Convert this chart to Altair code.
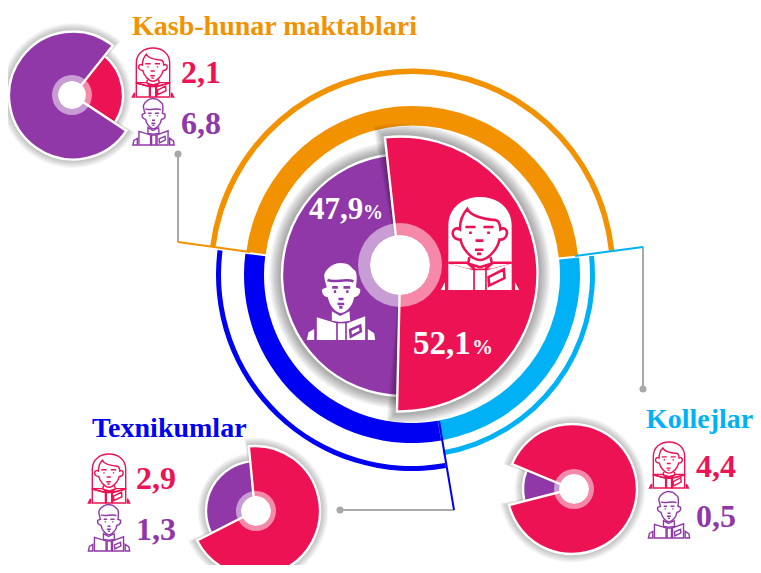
import re
import math
import altair as alt
import pandas as pd

# ---- data ----
MAIN_NAMES = ["Ayollar", "Erkaklar"]
MAIN_SHARES = [52.1, 47.9]
RING_NAMES = ["Kasb-hunar maktablari", "Kollejlar", "Texnikumlar"]
RING_SHARES = [46.3, 23.9, 29.8]
KASB_VALUES = [2.1, 6.8]
TEXN_VALUES = [2.9, 1.3]
KOLL_VALUES = [4.4, 0.5]

# ---- palette / layout ----
PINK = "#EC1254"
PURPLE = "#9038A8"
ORANGE = "#F39200"
BLUE = "#0000F2"
CYAN = "#00B2F5"
GREY = "#A8A8A8"
FONT = "Liberation Serif"
M = 8
THETA = alt.Scale(domain=[0, 360], range=[0, 2 * math.pi])
layers = []


def arc(cx, cy, r0, r1, a0, a1, color, opacity=1.0, stroke=None, sw=0):
    df = pd.DataFrame({"a0": [a0], "a1": [a1]})
    kw = {}
    if stroke:
        kw = {"stroke": stroke, "strokeWidth": sw}
    layers.append(
        alt.Chart(df)
        .mark_arc(radius=r1, radius2=r0, fill=color, fillOpacity=opacity, **kw)
        .encode(
            x=alt.value(cx - M),
            y=alt.value(cy - M),
            theta=alt.Theta("a0:Q", scale=THETA),
            theta2="a1:Q",
        )
    )


def shadow(cx, cy, r0, r1, a0, a1, steps, grow, pad=0.0, alpha=0.05):
    for i in range(steps, 0, -1):
        p = pad * i / steps
        arc(cx, cy, r0, r1 + grow * i, a0 - p, a1 + p, "#000000", alpha)


def line(x0, y0, x1, y1, color, w=2):
    layers.append(
        alt.Chart(pd.DataFrame({"k": [0]}))
        .mark_rule(color=color, strokeWidth=w)
        .encode(
            x=alt.value(x0 - M), y=alt.value(y0 - M),
            x2=alt.value(x1 - M), y2=alt.value(y1 - M),
        )
    )


def dot(x, y):
    layers.append(
        alt.Chart(pd.DataFrame({"k": [0]}))
        .mark_circle(size=50, color=GREY, opacity=1)
        .encode(x=alt.value(x - M), y=alt.value(y - M))
    )


def text(s, x, y, size, color):
    layers.append(
        alt.Chart(pd.DataFrame({"k": [0]}))
        .mark_text(text=s, font=FONT, fontWeight="bold", fontSize=size, color=color,
                   align="left", baseline="alphabetic")
        .encode(x=alt.value(x - M), y=alt.value(y - M))
    )


def pie(cx0, cy0, r0, cx1, cy1, r1, start, values, col0, col1, first_top=False):
    """slice 0 at (cx0,cy0) radius r0, slice 1 at (cx1,cy1) radius r1"""
    total = sum(values)
    a = start
    b = start + values[0] / total * 360
    c = start + 360
    if first_top:
        shadow(cx1, cy1, 0, r1, b, c, 7, 1.2, 0, 0.04)
        arc(cx1, cy1, 0, r1, b, c, col1, 1, "white", 2.4)
        shadow(cx0, cy0, 0, r0, a, b, 7, 1.2, 3, 0.04)
        arc(cx0, cy0, 0, r0, a, b, col0, 1, "white", 2.4)
    else:
        shadow(cx0, cy0, 0, r0, a, b, 7, 1.2, 0, 0.04)
        arc(cx0, cy0, 0, r0, a, b, col0, 1, "white", 2.4)
        shadow(cx1, cy1, 0, r1, b, c, 7, 1.2, 3, 0.04)
        arc(cx1, cy1, 0, r1, b, c, col1, 1, "white", 2.4)


def hub(cx, cy, hole, ring):
    arc(cx, cy, hole, ring, 0, 360, "#FFFFFF", 0.5)
    arc(cx, cy, 0, hole, 0, 360, "#FFFFFF")


# ---- icon outlines (design space, converted to Vega's [-1,1] symbol space) ----
F_BOX = (10, 240, 20, 293)
M_BOX = (20, 225, 24, 258)

F_FILL = [
    "M32 215 L32 105 C32 50 75 20 125 20 C175 20 218 50 218 105 L218 215 L160 230 L90 230 Z",
    "M32 215 L105 235 L105 293 L32 293 Z",
    "M110 235 L140 235 L140 293 L110 293 Z",
    "M145 235 L218 215 L218 293 L145 293 Z",
    "M10 293 L22 270 L22 293 Z",
    "M228 270 L240 293 L228 293 Z",
]
F_LINES = (
    "M88 55 C96 73 130 85 172 88 C182 90 184 100 185 115 C195 108 206 115 204 128 "
    "C202 140 192 146 182 145 C178 170 150 205 125 205 C100 205 72 170 68 145 "
    "C58 146 46 140 45 128 C44 115 55 108 66 115 C66 95 72 72 88 55 Z "
    "M94 197 L90 215 L110 232 M156 197 L160 215 L140 232 M92 216 L125 226 L158 216 "
    "M32 213 L88 213 M162 213 L218 213 "
    "M82 108 L112 108 M135 108 L165 108 M93 125 L101 125 M146 125 L154 125 "
    "M112 148 L135 148 M110 175 L135 175 M116 187 L129 187 "
    "M150 255 L195 232 L197 258 L152 280 Z"
)
M_FILL = [
    "M72 62 C78 40 108 22 128 28 C150 28 150 40 165 50 C172 62 170 80 167 100 L180 105 "
    "C182 118 175 128 162 130 C158 155 140 175 122 178 C105 175 88 155 83 130 "
    "C70 128 64 118 66 106 L80 100 C76 85 72 75 72 62 Z",
    "M95 172 L120 186 L148 172 L150 200 L122 204 L95 200 Z",
    "M50 190 L108 208 L108 258 L50 258 Z",
    "M113 208 L135 208 L135 258 L113 258 Z",
    "M140 208 L195 187 L195 258 L140 258 Z",
    "M20 258 L25 235 L42 225 L42 258 Z",
    "M203 225 L222 238 L225 258 L203 258 Z",
]
M_LINES = (
    "M82 78 C105 88 135 72 160 82 "
    "M96 100 L113 100 M130 100 L150 100 M101 113 L108 113 M138 113 L145 113 "
    "M115 135 L130 135 M112 150 L132 150 M117 160 L127 160 "
    "M150 228 L180 215 L182 232 L152 248 Z"
)


def normalize(path, box):
    x0, x1, y0, y1 = box
    cx, cy, half = (x0 + x1) / 2, (y0 + y1) / 2, (y1 - y0) / 2
    idx = [0]

    def sub(m):
        v = float(m.group())
        out = (v - cx) / half if idx[0] % 2 == 0 else (v - cy) / half
        idx[0] += 1
        return f"{out:.4f}"

    return re.sub(r"\d+(?:\.\d+)?", sub, path)


def icon(fill_paths, line_path, box, x0, y0, x1, y1, main, detail=None, sw=1.4):
    """solid=detail given: white silhouettes with coloured lines; else outline"""
    cx, cy, h = (x0 + x1) / 2, (y0 + y1) / 2, y1 - y0
    base = alt.Chart(pd.DataFrame({"k": [0]}))
    pos = dict(x=alt.value(cx - M), y=alt.value(cy - M))
    for p in fill_paths:
        s = normalize(p, box)
        if detail:
            layers.append(base.mark_point(shape=s, size=h * h, filled=True, fill=main,
                                          opacity=1, strokeWidth=0).encode(**pos))
        else:
            layers.append(base.mark_point(shape=s, size=h * h, filled=False, stroke=main,
                                          opacity=1, strokeWidth=sw).encode(**pos))
    layers.append(base.mark_point(shape=normalize(line_path, box), size=h * h, filled=False,
                                  stroke=detail or main, opacity=1, strokeWidth=2.6 if detail else sw).encode(**pos))


# ---- rings ----
a = [277.3]
for v in RING_SHARES:
    a.append(a[-1] + v / 100 * 360)
# thin rings
arc(412, 272, 198, 203.5, a[0], a[1], ORANGE)
arc(412, 275, 178, 183, a[1], a[2], CYAN)
arc(412, 275, 191, 196, a[2], a[3], BLUE)
# thick rings
arc(412, 273, 147.5, 167, a[0], a[1], ORANGE)
arc(412, 275, 148, 168, a[1], a[2], CYAN)
arc(412, 275, 148, 168, a[2], a[3], BLUE)

# connectors
line(178, 154, 178, 242, GREY)
dot(178, 154)
line(643, 247, 643, 389, GREY)
dot(643, 389)
line(340, 510, 454, 510, GREY)
dot(340, 510)
line(178, 242, 250, 252, ORANGE)
line(643, 247, 575, 256, CYAN)
line(439, 421, 454, 510, BLUE)

# ---- main pie ----
start = -6.3
mid = start + MAIN_SHARES[0] / 100 * 360
end = start + 360
shadow(403, 275, 0, 121, mid, end, 8, 1.6, 0)
arc(403, 275, 0, 121, mid, end, PURPLE, 1, "white", 2.4)
shadow(400, 274, 0, 137.5, start, mid, 8, 1.6, 4)
arc(400, 274, 0, 137.5, start, mid, PINK, 1, "white", 2.4)
hub(400, 265, 30, 42)
icon(F_FILL, F_LINES, F_BOX, 443, 197, 517, 290, "#FFFFFF", PINK)
icon(M_FILL, M_LINES, M_BOX, 307, 262, 375, 340, "#FFFFFF", PURPLE)
text("47,9", 309, 219, 31, "#FFFFFF")
text("%", 363, 219, 20, "#FFFFFF")
text("52,1", 413, 354, 33, "#FFFFFF")
text("%", 472, 354, 21, "#FFFFFF")

# ---- small pies ----
pie(72, 95, 51, 73, 95.5, 64, 38.5, KASB_VALUES, PINK, PURPLE)
hub(72, 95, 14, 20)
pie(255, 511, 65, 256, 511, 50, 354.5, TEXN_VALUES, PINK, PURPLE, first_top=True)
hub(256, 511, 15, 20)
pie(572, 489, 65, 574, 489, 51, 292.5, KOLL_VALUES, PINK, PURPLE, first_top=True)
hub(574, 489, 15, 20)

# ---- titles & values ----
text("Kasb-hunar maktablari", 132, 35, 28, ORANGE)
text("Texnikumlar", 92, 437, 28, BLUE)
text("Kollejlar", 646, 428, 28, CYAN)
text("2,1", 181, 83, 32, PINK)
text("6,8", 181, 134, 32, PURPLE)
text("2,9", 136, 489, 32, PINK)
text("1,3", 136, 540, 32, PURPLE)
text("4,4", 696, 477, 32, PINK)
text("0,5", 696, 527, 32, PURPLE)

# small icons
for (fx0, fy0, fx1, fy1), (mx0, my0, mx1, my1) in [
    ((133, 48, 173, 97), (133, 98, 174, 145)),
    ((89, 454, 129, 503), (88, 504, 130, 551)),
    ((649, 442, 689, 488), (648, 491, 690, 538)),
]:
    icon(F_FILL, F_LINES, F_BOX, fx0, fy0, fx1, fy1, PINK)
    icon(M_FILL, M_LINES, M_BOX, mx0, my0, mx1, my1, PURPLE)

chart = (
    alt.layer(*layers)
    .properties(width=745, height=557, padding=0, background="white",
                autosize=alt.AutoSizeParams(type="none"))
    .configure_view(strokeWidth=0)
)
chart.save("out.html", embed_options={"renderer": "svg", "actions": False})
